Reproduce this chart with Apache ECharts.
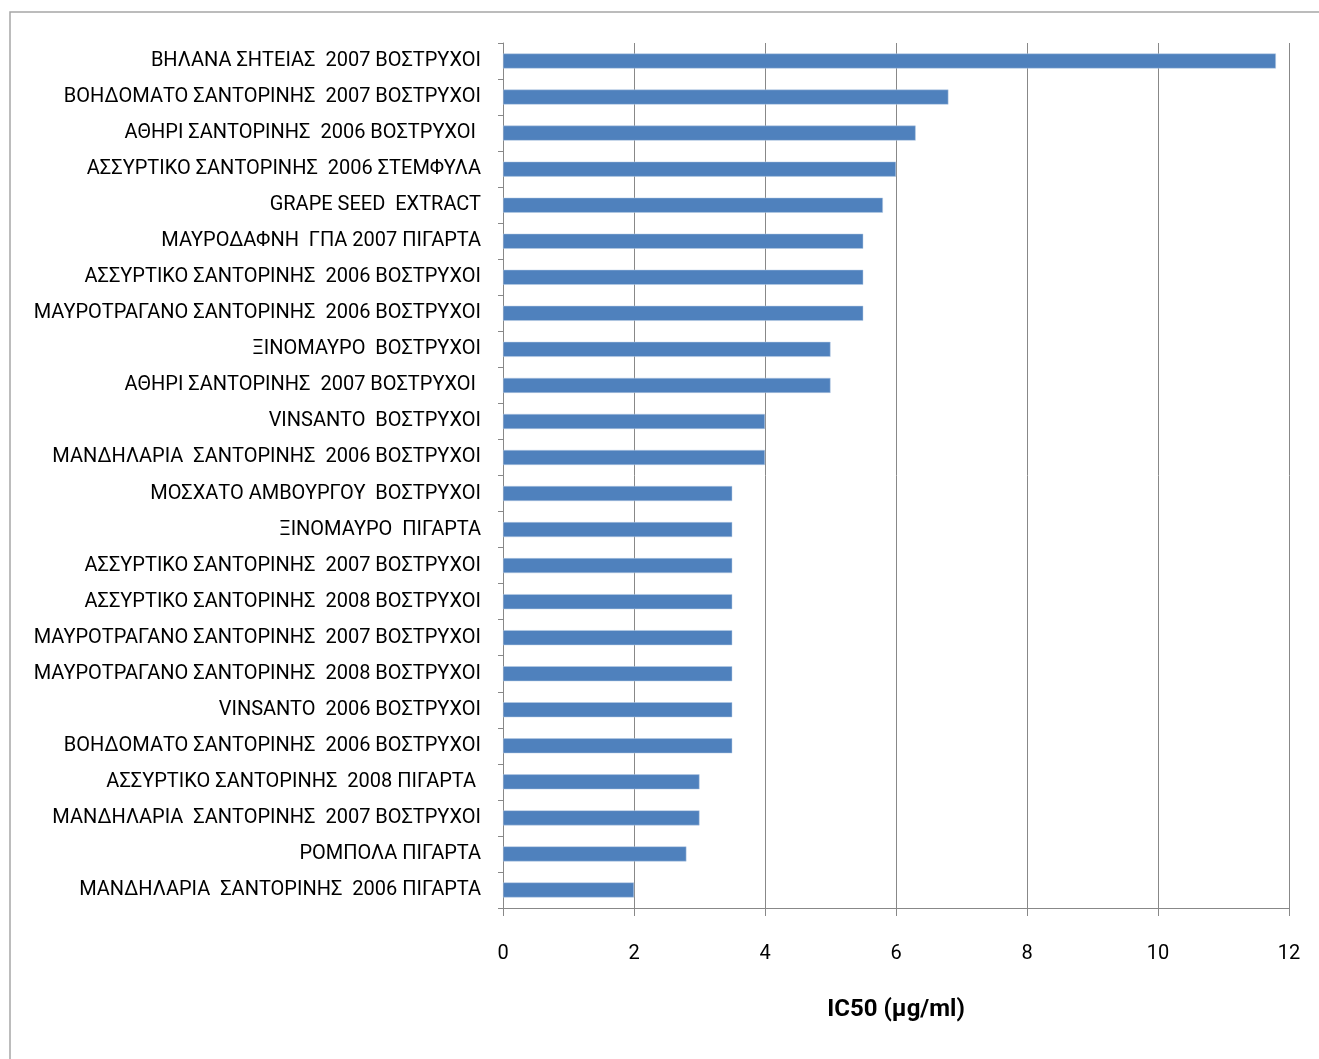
<!DOCTYPE html>
<html>
<head>
<meta charset="utf-8">
<script src="https://cdn.jsdelivr.net/npm/echarts@6/dist/echarts.min.js"></script>
<style>
  html, body { margin: 0; padding: 0; background: #fff; }
  #main { width: 1319px; height: 1059px; }
</style>
</head>
<body>
<div id="main"></div>
<script>
// categories, top to bottom as in the picture
var samples = [
  "ΒΗΛΑΝΑ ΣΗΤΕΙΑΣ  2007 ΒΟΣΤΡΥΧΟΙ",
  "ΒΟΗΔΟΜΑΤΟ ΣΑΝΤΟΡΙΝΗΣ  2007 ΒΟΣΤΡΥΧΟΙ",
  "ΑΘΗΡΙ ΣΑΝΤΟΡΙΝΗΣ  2006 ΒΟΣΤΡΥΧΟΙ ",
  "ΑΣΣΥΡΤΙΚΟ ΣΑΝΤΟΡΙΝΗΣ  2006 ΣΤΕΜΦΥΛΑ",
  "GRAPE SEED  EXTRACT",
  "ΜΑΥΡΟΔΑΦΝΗ  ΓΠΑ 2007 ΠΙΓΑΡΤΑ",
  "ΑΣΣΥΡΤΙΚΟ ΣΑΝΤΟΡΙΝΗΣ  2006 ΒΟΣΤΡΥΧΟΙ",
  "ΜΑΥΡΟΤΡΑΓΑΝΟ ΣΑΝΤΟΡΙΝΗΣ  2006 ΒΟΣΤΡΥΧΟΙ",
  "ΞΙΝΟΜΑΥΡΟ  ΒΟΣΤΡΥΧΟΙ",
  "ΑΘΗΡΙ ΣΑΝΤΟΡΙΝΗΣ  2007 ΒΟΣΤΡΥΧΟΙ ",
  "VINSANTO  ΒΟΣΤΡΥΧΟΙ",
  "ΜΑΝΔΗΛΑΡΙΑ  ΣΑΝΤΟΡΙΝΗΣ  2006 ΒΟΣΤΡΥΧΟΙ",
  "ΜΟΣΧΑΤΟ ΑΜΒΟΥΡΓΟΥ  ΒΟΣΤΡΥΧΟΙ",
  "ΞΙΝΟΜΑΥΡΟ  ΠΙΓΑΡΤΑ",
  "ΑΣΣΥΡΤΙΚΟ ΣΑΝΤΟΡΙΝΗΣ  2007 ΒΟΣΤΡΥΧΟΙ",
  "ΑΣΣΥΡΤΙΚΟ ΣΑΝΤΟΡΙΝΗΣ  2008 ΒΟΣΤΡΥΧΟΙ",
  "ΜΑΥΡΟΤΡΑΓΑΝΟ ΣΑΝΤΟΡΙΝΗΣ  2007 ΒΟΣΤΡΥΧΟΙ",
  "ΜΑΥΡΟΤΡΑΓΑΝΟ ΣΑΝΤΟΡΙΝΗΣ  2008 ΒΟΣΤΡΥΧΟΙ",
  "VINSANTO  2006 ΒΟΣΤΡΥΧΟΙ",
  "ΒΟΗΔΟΜΑΤΟ ΣΑΝΤΟΡΙΝΗΣ  2006 ΒΟΣΤΡΥΧΟΙ",
  "ΑΣΣΥΡΤΙΚΟ ΣΑΝΤΟΡΙΝΗΣ  2008 ΠΙΓΑΡΤΑ ",
  "ΜΑΝΔΗΛΑΡΙΑ  ΣΑΝΤΟΡΙΝΗΣ  2007 ΒΟΣΤΡΥΧΟΙ",
  "ΡΟΜΠΟΛΑ ΠΙΓΑΡΤΑ",
  "ΜΑΝΔΗΛΑΡΙΑ  ΣΑΝΤΟΡΙΝΗΣ  2006 ΠΙΓΑΡΤΑ"
];
// IC50 values
var ic50 = [11.8, 6.8, 6.3, 6.0, 5.8, 5.5, 5.5, 5.5, 5.0, 5.0, 4.0, 4.0,
            3.5, 3.5, 3.5, 3.5, 3.5, 3.5, 3.5, 3.5, 3.0, 3.0, 2.8, 2.0];
var xTicks = { min: 0, max: 12, interval: 2 };
var axisTitle = "IC50 (μg/ml)";

var labelFont = 'Roboto, "Open Sans", sans-serif';

var chart = echarts.init(document.getElementById("main"));
var option = {
  animation: false,
  backgroundColor: "#fff",
  graphic: [{
    type: "rect",
    shape: { x: 10, y: 12, width: 1400, height: 1100 },
    style: { fill: "none", stroke: "#a6a6a6", lineWidth: 1.5 },
    silent: true
  }],
  grid: { left: 503, right: 30, top: 43, bottom: 151, containLabel: false },
  xAxis: {
    type: "value",
    min: xTicks.min, max: xTicks.max, interval: xTicks.interval,
    axisLine: { show: true, lineStyle: { color: "#888", width: 1 } },
    axisTick: { show: true, length: 8, lineStyle: { color: "#888" } },
    axisLabel: { color: "#000", fontSize: 20, margin: 36, fontFamily: labelFont },
    splitLine: { show: true, lineStyle: { color: "#888", width: 1 } },
    name: axisTitle,
    nameLocation: "middle",
    nameGap: 90,
    nameTextStyle: { color: "#000", fontSize: 24, fontWeight: "bold", fontFamily: labelFont }
  },
  yAxis: {
    type: "category",
    inverse: true,
    data: samples,
    axisLine: { show: true, lineStyle: { color: "#888", width: 1 } },
    axisTick: { show: true, length: 5, lineStyle: { color: "#888" } },
    axisLabel: { color: "#000", fontSize: 20, margin: 22, fontFamily: labelFont },
    splitLine: { show: false }
  },
  series: [{
    type: "bar",
    data: ic50,
    barWidth: 15,
    itemStyle: { color: "#4f81bd", borderColor: "#b9cde5", borderWidth: 0.5 }
  }]
};
chart.setOption(option);
</script>
</body>
</html>
